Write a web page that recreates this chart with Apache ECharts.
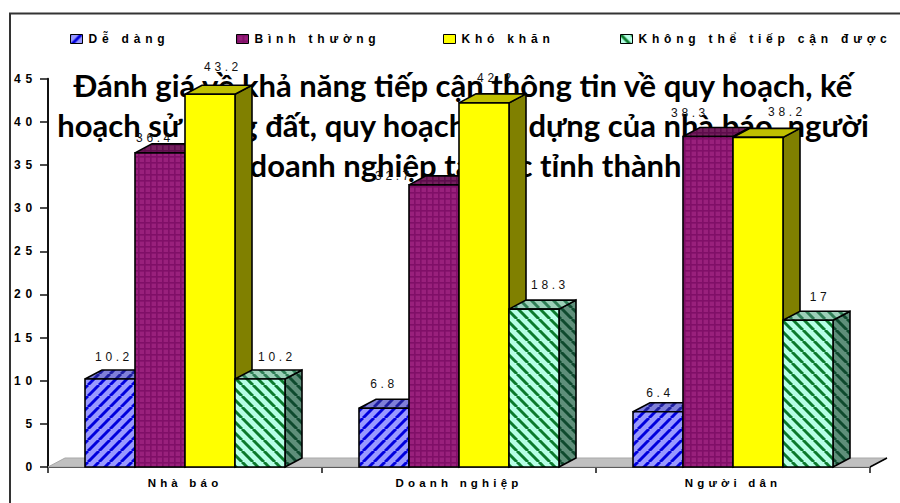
<!DOCTYPE html>
<html><head><meta charset="utf-8">
<style>
html,body{margin:0;padding:0;background:#fff;overflow:hidden}
#c{width:900px;height:503px}
svg text{letter-spacing:3.6px}
svg text[style*="bold"]{letter-spacing:4.8px}
svg text[style*="11.5px"]{letter-spacing:4.2px}
svg text[style*="Lato"]{letter-spacing:0}
</style>
<script src="https://cdn.jsdelivr.net/npm/echarts@6/dist/echarts.min.js"></script>
</head><body><div id="c"></div>
<script>
const categories = ['Nhà báo', 'Doanh nghiệp', 'Người dân'];
const seriesNames = ['Dễ dàng', 'Bình thường', 'Khó khăn', 'Không thể tiếp cận được'];
const deDang = [10.2, 6.8, 6.4];
const binhThuong = [36.4, 32.7, 38.3];
const khoKhan = [43.2, 42.2, 38.2];
const khongThe = [10.2, 18.3, 17];
const yTicks = { min: 0, max: 45, interval: 5 };
const titleText = 'Đánh giá về khả năng tiếp cận thông tin về quy hoạch, kế\nhoạch sử dụng đất, quy hoạch xây dựng của nhà báo, người\ndân, doanh nghiệp tại các tỉnh thành phố';

// label nudges in the reference (px from the default spot), per series then category
const labelNudge = [
  [[4,-22],[0,-24],[2,-19]],
  [[-5,-15],[-40,-9],[-18,-24]],
  [[13,-27],[12,-25],[29,-25]],
  [[17,-22],[16,-24],[12,-23]]
];

function tile(size, draw){
  const c = document.createElement('canvas'); c.width = c.height = size;
  draw(c.getContext('2d'), size);
  return { image: c, repeat: 'repeat' };
}
function stripes(bg, fg, up, w){
  return tile(11, (g, s) => {
    g.fillStyle = bg; g.fillRect(0,0,s,s);
    g.strokeStyle = fg; g.lineWidth = w;
    for (let k = -s; k <= 2*s; k += s){
      g.beginPath();
      if (up){ g.moveTo(k, s); g.lineTo(k+s, 0); } else { g.moveTo(k, 0); g.lineTo(k+s, s); }
      g.stroke();
    }
  });
}
function grid(bg, fg){
  return tile(6, (g, s) => {
    g.fillStyle = bg; g.fillRect(0,0,s,s);
    g.fillStyle = fg; g.fillRect(0,0,s,1.6); g.fillRect(0,0,1.6,s);
  });
}
const faces = [
  { front: stripes('#9999ff','#0000dd',true,3),  top: stripes('#7f7fd8','#1d1da0',true,3),  side: stripes('#5f5fa8','#0b0b80',true,3) },
  { front: grid('#99207c','#800f68'),            top: grid('#74205e','#5e0d4c'),            side: grid('#60104c','#4a0a3a') },
  { front: '#ffff00',                            top: '#c0c000',                            side: '#808000' },
  { front: stripes('#b6ffe6','#0b7a2c',false,3), top: stripes('#9cd0b8','#2f7d55',false,3), side: stripes('#5f8f7a','#0f4a2e',false,3) }
];

const DEPTH_X = 17, DEPTH_Y = 9, BAR_FRACTION = 50 / 274;

function renderBar(params, api){
  const si = params.seriesIndex - 1;
  const cat = api.value(0), val = api.value(1);
  const band = api.size([1, 0])[0];
  const w = band * BAR_FRACTION;
  const top = api.coord([cat, val]);
  const base = api.coord([cat, 0]);
  const x0 = top[0] - 2 * w + si * w, x1 = x0 + w, yT = top[1], yB = base[1];
  const line = { stroke: '#000', lineWidth: 1.6, lineJoin: 'miter' };
  const nudge = labelNudge[si][cat];
  return { type: 'group', children: [
    { type: 'polygon', shape: { points: [[x1,yB],[x1+DEPTH_X,yB-DEPTH_Y],[x1+DEPTH_X,yT-DEPTH_Y],[x1,yT]] }, style: Object.assign({ fill: faces[si].side }, line) },
    { type: 'polygon', shape: { points: [[x0,yT],[x0+DEPTH_X,yT-DEPTH_Y],[x1+DEPTH_X,yT-DEPTH_Y],[x1,yT]] }, style: Object.assign({ fill: faces[si].top }, line) },
    { type: 'rect', shape: { x: x0, y: yT, width: w, height: yB - yT }, style: Object.assign({ fill: faces[si].front }, line) },
    { type: 'text', z2: 5, style: { text: String(val), x: (x0 + x1) / 2 + nudge[0], y: yT + nudge[1], align: 'center', verticalAlign: 'middle', fill: '#111', fontSize: 12, fontFamily: 'Liberation Sans' } }
  ]};
}
function renderFloor(params, api){
  const cs = params.coordSys;
  const yB = api.coord([0, 0])[1];
  const xL = cs.x, xR = cs.x + cs.width;
  return { type: 'group', silent: true, children: [
    { type: 'polygon', shape: { points: [[xL,yB],[xL+DEPTH_X,yB-DEPTH_Y],[xR+DEPTH_X,yB-DEPTH_Y],[xR,yB]] },
      style: { fill: '#c0c0c0', stroke: '#a8a8a8', lineWidth: 1 } },
    { type: 'line', shape: { x1: xR, y1: yB, x2: xR + DEPTH_X, y2: yB - DEPTH_Y }, style: { stroke: '#000', lineWidth: 1.5 } }
  ]};
}

const allValues = [deDang, binhThuong, khoKhan, khongThe];
const legendLeft = [70, 236, 443, 620];

const chart = echarts.init(document.getElementById('c'), null, { renderer: 'svg' });
chart.setOption({
  animation: false,
  backgroundColor: '#fff',
  grid: { left: 48, right: 30, top: 78.7, bottom: 36, containLabel: false },
  title: {
    text: titleText, left: 463, top: 65, textAlign: 'center', padding: 0, z: 0,
    textStyle: { fontFamily: 'Lato', fontWeight: 'bold', fontSize: 31, lineHeight: 40, color: '#000' }
  },
  graphic: [{ type: 'rect', z: 1, silent: true, shape: { x: 10, y: 13.5, width: 1000, height: 600 }, style: { fill: 'none', stroke: '#333', lineWidth: 2 } }],
  legend: seriesNames.map((n, i) => ({
    left: legendLeft[i], top: 33, padding: 0, selectedMode: false, itemWidth: 12, itemHeight: 9, itemGap: 0,
    data: [{ name: n, icon: 'rect', itemStyle: { color: faces[i].front, borderColor: '#000', borderWidth: 1 } }],
    textStyle: { fontFamily: 'Liberation Sans', fontWeight: 'bold', fontSize: 12, color: '#000', padding: [0,0,0,1] }
  })),
  xAxis: {
    type: 'category', data: categories, boundaryGap: true,
    axisLine: { show: true, onZero: false, lineStyle: { color: '#111', width: 2 } },
    axisTick: { show: true, alignWithLabel: false, length: 6, lineStyle: { color: '#111', width: 1.5 } },
    axisLabel: { margin: 10, fontFamily: 'Liberation Sans', fontWeight: 'bold', fontSize: 11.5, color: '#000' },
    splitLine: { show: false }
  },
  yAxis: {
    type: 'value', min: yTicks.min, max: yTicks.max, interval: yTicks.interval,
    axisLine: { show: true, lineStyle: { color: '#111', width: 2 } },
    axisTick: { show: true, length: 8, lineStyle: { color: '#111', width: 1.5 } },
    axisLabel: { margin: 11, padding: [0,0,4,0], fontFamily: 'Liberation Sans', fontWeight: 'bold', fontSize: 12, color: '#000' },
    splitLine: { show: false }
  },
  series: [
    { type: 'custom', name: '__floor', silent: true, z: 1, renderItem: renderFloor, data: [[0, 0]], encode: { x: 0, y: 1 } }
  ].concat(seriesNames.map((n, i) => ({
    type: 'custom', name: n, z: 2, renderItem: renderBar, itemStyle: { color: faces[i].front },
    encode: { x: 0, y: 1 },
    data: allValues[i].map((v, c) => [c, v])
  })))
});
</script></body></html>
